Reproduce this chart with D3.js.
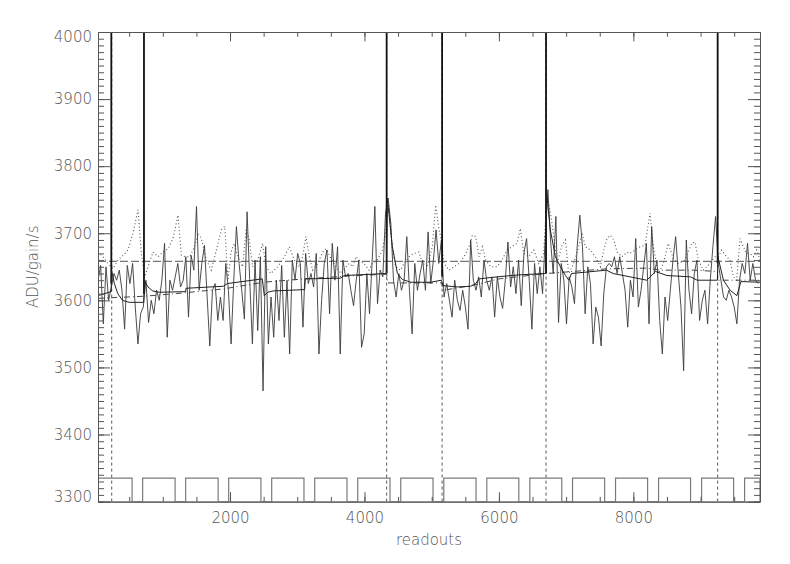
<!DOCTYPE html>
<html lang="en">
<head>
<meta charset="utf-8"/>
<script src="https://d3js.org/d3.v7.min.js"></script>
<title>ADU per readout</title>
<style>
  body { margin: 0; background: #fff; }
  text { font-family: "DejaVu Sans", sans-serif; font-weight: 200; fill: #555; }
</style>
</head>
<body>
<svg id="chart"></svg>
<script>
const width = 790, height = 564;
const margin = {top: 32, right: 30, bottom: 62.4, left: 98};

// readout sampling of the measured signal
const firstReadout = 36, readoutStep = 39.6;
const signal = [
  3630,3652,3565,3650,3600,3620,3640,3630,3645,3615, 3557,3652,3625,3655,3590,3535,3580,3590,3630,3567,
  3600,3580,3615,3600,3630,3685,3545,3630,3615,3635, 3655,3620,3630,3665,3575,3667,3645,3740,3615,3655,
  3682,3605,3532,3615,3625,3570,3605,3570,3655,3615,
  3535,3630,3710,3655,3615,3572,3732,3630,3535,3660, 3555,3665,3465,3680,3535,3605,3545,3630,3570,3652,
  3545,3630,3520,3660,3630,3670,3655,3560,3670,3625, 3640,3620,3670,3520,3600,3655,3675,3580,3685,3630,
  3680,3520,3660,3635,3640,3615,3592,3630,3660,3530,
  3550,3640,3580,3660,3740,3595,3645,3635,3730,3752, 3715,3630,3605,3640,3615,3630,3695,3615,3550,3655,
  3615,3640,3660,3615,3702,3625,3660,3705,3655,3690, 3605,3625,3600,3575,3630,3600,3585,3615,3590,3557,
  3690,3630,3615,3635,3605,3660,3630,3615,3635,3575,
  3635,3605,3588,3630,3687,3620,3650,3610,3660,3592, 3670,3692,3630,3557,3655,3610,3650,3610,3692,3765,
  3690,3640,3725,3567,3655,3630,3565,3635,3620,3595, 3680,3727,3680,3580,3650,3625,3535,3590,3575,3532,
  3610,3650,3655,3650,3665,3640,3665,3640,3615,3560,
  3630,3605,3692,3590,3615,3650,3685,3565,3710,3640, 3660,3570,3520,3605,3570,3615,3660,3695,3640,3590,
  3495,3690,3615,3580,3640,3660,3570,3600,3615,3565, 3630,3680,3725,3655,3630,3605,3600,3615,3605,3590,
  3565,3630,3655,3640,3685,3630,3655,3630,3625
];

// dotted comparison series
const dotReadouts = [36,110,185,259,334,408,482,557,631,681,730,780,854,929,1003,1078,1152,1226,1276,1336,1400,1474,1524,1574,1648,1722,1797,1871,1921,1970,
  2014,2064,2113,2188,2237,2287,2336,2411,2485,2535,2609,2708,2808,2882,2956,3031,3080,3130,3180,3229,3304,3378,3428,3502,3576,3651,3725,3775,3824,3874,3924,3993,
  4067,4117,4191,4266,4315,4350,4415,4464,4539,4588,4663,4737,4811,4861,4935,5010,5059,5109,5144,5183,5258,5332,5407,5481,5555,5605,5655,5704,5754,5803,5878,
  5972,6046,6121,6195,6270,6319,6369,6443,6518,6592,6666,6716,6790,6865,6939,6989,7038,7113,7187,7237,7286,7361,7435,7510,7559,7609,7658,7708,7758,7832,7906,
  7950,8024,8099,8173,8248,8297,8372,8446,8520,8595,8669,8768,8868,8917,8967,9041,9140,9215,9264,9314,9388,9438,9488,9537,9587,9636,9686,9736,9785,9835,9884];
const dotValues = [3672,3665,3655,3647,3660,3667,3675,3700,3735,3670,3635,3650,3672,3665,3672,3677,3692,3727,3667,3665,3665,3680,3700,3692,3660,3645,3675,3705,3710,3630,
  3672,3685,3665,3650,3705,3690,3650,3660,3685,3650,3640,3650,3665,3680,3660,3650,3665,3695,3665,3645,3655,3672,3677,3662,3650,3640,3650,3655,3650,3665,3660,3655,
  3645,3655,3660,3675,3700,3752,3675,3650,3645,3655,3665,3670,3672,3655,3652,3680,3742,3705,3690,3655,3645,3650,3655,3665,3680,3697,3695,3665,3680,3660,3650,
  3650,3660,3675,3680,3685,3707,3670,3665,3675,3655,3670,3760,3715,3655,3682,3690,3640,3655,3680,3700,3680,3675,3665,3650,3675,3692,3697,3690,3672,3665,3672,
  3670,3675,3680,3682,3730,3680,3640,3655,3685,3662,3655,3660,3685,3687,3660,3645,3655,3665,3665,3675,3665,3660,3635,3630,3692,3680,3670,3670,3665,3675,3660];

// fitted model (solid, decays after each hit)
const modelReadouts = [36,232, 236,280,330,400,500,716, 722,780,850,950,1340,1345,1900,1960,2480,2510,2560,2640,3110,3120,3640,3700,4325,
  4340,4415,4490,4565,4690,4985,5145, 5170,5380,5580,5655,5705,5972,6300,6695,
  6705,6765,6840,6915,6990,7040,7080,7600,7700,8200,8330,8500,8850,8950,9250, 9258,9340,9440,9540,9600,9884];
const modelValues = [3607,3613, 3645,3625,3610,3600,3597,3597, 3630,3620,3614,3612,3613,3618,3621,3625,3632,3607,3612,3614,3616,3632,3633,3637,3640,
  3752,3680,3640,3631,3627,3627,3630, 3622,3620,3621,3625,3632,3635,3638,3640,
  3765,3705,3665,3650,3637,3630,3640,3645,3640,3630,3643,3637,3635,3630,3630, 3665,3630,3615,3607,3628,3627];

// slow baseline (dash-dot)
const baseReadouts = [36,700,1200,1900,2500,3100,3700,4330,4345,5150,5165,5600,6000,6700,6710,7600,8200,8400,8900,9250,9260,9884];
const baseValues = [3603,3606,3610,3617,3627,3632,3636,3639,3626,3626,3615,3622,3632,3640,3640,3647,3648,3645,3645,3643,3630,3630];

const meanLevel = 3658;
const hitReadouts = [234, 720, 4330, 5155, 6701, 9254];
const hitBase = [3625, 3610, 3640, 3635, 3640, 3655];
const jumpReadouts = [240, 4330, 5155, 6701, 9254];

// reset pulses at the bottom
const pulseStart = [36,700,1340,1980,2620,3260,3900,4540,5180,5820,6460,7095,7735,8375,9015,9655];
const pulseEnd = [543,1183,1823,2460,3100,3740,4380,5020,5660,6296,6935,7573,8212,8851,9491,9884];
const pulseHigh = 3335, pulseLow = 3300;

const xMajor = [2000, 4000, 6000, 8000];
const xMinor = d3.range(500, 9884, 500);
const yMajor = d3.range(3300, 4001, 100);
const yMinor = d3.range(3300, 4001, 10);

const svg = d3.select("#chart").attr("width", width).attr("height", height);
const x = d3.scaleLinear().domain([36, 9884]).range([margin.left, width - margin.right]);
const y = d3.scaleLinear().domain([3300, 4000]).range([height - margin.bottom, margin.top]);

svg.append("defs").append("clipPath").attr("id", "plot")
  .append("rect")
  .attr("x", margin.left).attr("y", margin.top)
  .attr("width", width - margin.left - margin.right)
  .attr("height", height - margin.top - margin.bottom);

const g = svg.append("g").attr("clip-path", "url(#plot)");

// pulses
const pulsePts = [];
pulseStart.forEach((s, i) => {
  pulsePts.push([s, pulseLow], [s, pulseHigh], [pulseEnd[i], pulseHigh], [pulseEnd[i], pulseLow]);
});
g.append("path")
  .datum(pulsePts)
  .attr("fill", "none").attr("stroke", "#7a7a7a").attr("stroke-width", 1.2)
  .attr("d", d3.line().x(d => x(d[0])).y(d => y(d[1])));

// jump markers
g.selectAll(".jump").data(jumpReadouts).join("line")
  .attr("class", "jump")
  .attr("x1", d => x(d)).attr("x2", d => x(d))
  .attr("y1", y(3300)).attr("y2", y(4000))
  .attr("stroke", "#555").attr("stroke-width", 1).attr("stroke-dasharray", "3,3");

// mean level
g.append("line")
  .attr("x1", x(36)).attr("x2", x(9884))
  .attr("y1", y(meanLevel)).attr("y2", y(meanLevel))
  .attr("stroke", "#777").attr("stroke-width", 1.3).attr("stroke-dasharray", "8,3");

// dotted series
g.append("path")
  .datum(dotReadouts.map((r, i) => [r, dotValues[i]]))
  .attr("fill", "none").attr("stroke", "#555").attr("stroke-width", 1.1)
  .attr("stroke-dasharray", "1,2.5")
  .attr("d", d3.line().x(d => x(d[0])).y(d => y(d[1])));

// measured signal
g.append("path")
  .datum(signal.map((v, i) => [firstReadout + i * readoutStep, v]))
  .attr("fill", "none").attr("stroke", "#3a3a3a").attr("stroke-width", 0.9)
  .attr("stroke-linejoin", "round")
  .attr("d", d3.line().x(d => x(d[0])).y(d => y(d[1])));

// hits
g.selectAll(".hit").data(hitReadouts).join("line")
  .attr("class", "hit")
  .attr("x1", d => x(d)).attr("x2", d => x(d))
  .attr("y1", (d, i) => y(hitBase[i])).attr("y2", y(4000) - 5)
  .attr("stroke", "#111").attr("stroke-width", 1.8);

// baseline
g.append("path")
  .datum(baseReadouts.map((r, i) => [r, baseValues[i]]))
  .attr("fill", "none").attr("stroke", "#444").attr("stroke-width", 1)
  .attr("stroke-dasharray", "6,3,1,3")
  .attr("d", d3.line().x(d => x(d[0])).y(d => y(d[1])));

// model
g.append("path")
  .datum(modelReadouts.map((r, i) => [r, modelValues[i]]))
  .attr("fill", "none").attr("stroke", "#222").attr("stroke-width", 1)
  .attr("d", d3.line().x(d => x(d[0])).y(d => y(d[1])));

// axes, IDL style with ticks pointing inward on all sides
const axisColor = "#555";
function styleAxis(sel) {
  sel.selectAll("path, line").attr("stroke", axisColor);
  sel.selectAll("text").style("font-size", "15px").attr("fill", "#555");
}
const h = height - margin.bottom, w = width - margin.right;

svg.append("g").attr("transform", `translate(0,${h})`)
  .call(d3.axisBottom(x).tickValues(xMinor).tickSizeInner(-4.7).tickSizeOuter(0).tickFormat(""))
  .call(styleAxis);
svg.append("g").attr("transform", `translate(0,${h})`)
  .call(d3.axisBottom(x).tickValues(xMajor).tickSizeInner(-9.4).tickSizeOuter(0).tickPadding(11).tickFormat(d3.format("d")))
  .call(styleAxis);
svg.append("g").attr("transform", `translate(0,${margin.top})`)
  .call(d3.axisTop(x).tickValues(xMinor).tickSizeInner(-4.7).tickSizeOuter(0).tickFormat(""))
  .call(styleAxis);
svg.append("g").attr("transform", `translate(0,${margin.top})`)
  .call(d3.axisTop(x).tickValues(xMajor).tickSizeInner(-9.4).tickSizeOuter(0).tickFormat(""))
  .call(styleAxis);

svg.append("g").attr("transform", `translate(${margin.left},0)`)
  .call(d3.axisLeft(y).tickValues(yMinor).tickSizeInner(-6).tickSizeOuter(0).tickFormat(""))
  .call(styleAxis);
const yAxisG = svg.append("g").attr("transform", `translate(${margin.left},0)`)
  .call(d3.axisLeft(y).tickValues(yMajor).tickSizeInner(-12).tickSizeOuter(0).tickPadding(6).tickFormat(d3.format("d")))
  .call(styleAxis);
// keep end labels inside the frame
yAxisG.selectAll(".tick text")
  .attr("y", d => d === 4000 ? 5 : d === 3300 ? -5 : 0);

svg.append("g").attr("transform", `translate(${w},0)`)
  .call(d3.axisRight(y).tickValues(yMinor).tickSizeInner(-6).tickSizeOuter(0).tickFormat(""))
  .call(styleAxis);
svg.append("g").attr("transform", `translate(${w},0)`)
  .call(d3.axisRight(y).tickValues(yMajor).tickSizeInner(-12).tickSizeOuter(0).tickFormat(""))
  .call(styleAxis);

svg.append("text")
  .attr("x", (margin.left + w) / 2).attr("y", 545)
  .attr("text-anchor", "middle").style("font-size", "15px")
  .text("readouts");
svg.append("text")
  .attr("transform", `translate(38,${(margin.top + h) / 2}) rotate(-90)`)
  .attr("text-anchor", "middle").style("font-size", "15px")
  .text("ADU/gain/s");
</script>
</body>
</html>
